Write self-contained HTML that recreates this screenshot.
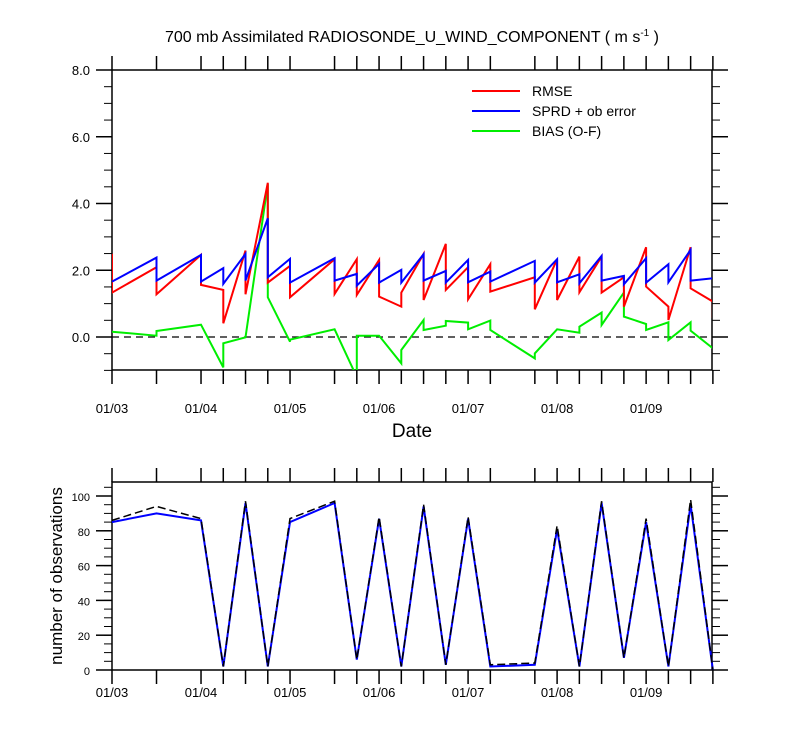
<!DOCTYPE html>
<html><head><meta charset="utf-8"><style>
html,body{margin:0;padding:0;background:#fff;}
svg{display:block;font-family:"Liberation Sans",Arial,sans-serif;}
</style></head><body>
<svg id="chart" width="800" height="750" viewBox="0 0 800 750" xmlns="http://www.w3.org/2000/svg">
<text x="412" y="42" font-size="16" text-anchor="middle">700 mb Assimilated RADIOSONDE_U_WIND_COMPONENT ( m s<tspan dy="-6" font-size="10">-1</tspan><tspan dy="6"> )</tspan></text>
<text x="412" y="437" font-size="19" text-anchor="middle">Date</text>
<text transform="translate(62,576) rotate(-90)" font-size="17" text-anchor="middle">number of observations</text>
<g id="top"></g>
<g id="bot"></g>
<g>
<line x1="472" y1="91" x2="520" y2="91" stroke="#ff0000" stroke-width="2"/>
<text x="532" y="96" font-size="14">RMSE</text>
<line x1="472" y1="111" x2="520" y2="111" stroke="#0000ff" stroke-width="2"/>
<text x="532" y="116" font-size="14">SPRD + ob error</text>
<line x1="472" y1="131" x2="520" y2="131" stroke="#00ee00" stroke-width="2"/>
<text x="532" y="136" font-size="14">BIAS (O-F)</text>
</g>
</svg>
<script>
// time in days since 01/03 00Z; duplicate times give vertical jumps
const rmseT=[0,0,0.5,0.5,1,1,1.25,1.25,1.5,1.5,1.75,1.75,2,2,2.5,2.5,2.75,2.75,3,3,3.25,3.25,3.5,3.5,3.75,3.75,4,4,4.25,4.25,4.75,4.75,5,5,5.25,5.25,5.5,5.5,5.75,5.75,6,6,6.25,6.25,6.5,6.5,6.75,6.75];
const rmseV=[2.49,1.33,2.09,1.28,2.46,1.56,1.41,0.41,2.59,1.28,4.62,1.63,2.13,1.19,2.33,1.29,2.33,1.26,2.31,1.21,0.91,1.33,2.49,1.11,2.79,1.41,2.09,1.13,2.18,1.36,1.79,0.83,2.33,1.11,2.41,1.34,2.41,1.33,1.79,0.91,2.69,1.51,0.91,0.51,2.69,1.46,1.06,0.57];
const sprdT=[0,0.5,0.5,1,1,1.25,1.25,1.5,1.5,1.75,1.75,2,2,2.5,2.5,2.75,2.75,3,3,3.25,3.25,3.5,3.5,3.75,3.75,4,4,4.25,4.25,4.75,4.75,5,5,5.25,5.25,5.5,5.5,5.75,5.75,6,6,6.25,6.25,6.5,6.5,6.75];
const sprdV=[1.66,2.38,1.69,2.46,1.66,2.06,1.59,2.49,1.69,3.56,1.79,2.34,1.63,2.36,1.69,1.89,1.54,2.19,1.63,2.01,1.63,2.48,1.69,1.98,1.63,2.31,1.64,1.96,1.66,2.28,1.63,2.33,1.64,1.88,1.61,2.43,1.69,1.83,1.58,2.36,1.63,2.18,1.64,2.61,1.69,1.76];
const biasT=[0,0.5,0.5,1,1.25,1.25,1.5,1.75,1.75,2,2,2.5,2.75,2.75,3,3.25,3.25,3.5,3.5,3.75,3.75,4,4,4.25,4.25,4.75,4.75,5,5.25,5.25,5.5,5.5,5.75,5.75,6,6,6.25,6.25,6.5,6.5,6.75];
const biasV=[0.16,0.04,0.18,0.37,-0.91,-0.19,-0.01,4.58,1.19,-0.14,-0.08,0.23,-1.2,0.04,0.04,-0.79,-0.39,0.51,0.21,0.34,0.48,0.43,0.23,0.49,0.21,-0.64,-0.49,0.23,0.13,0.31,0.73,0.36,1.33,0.61,0.39,0.21,0.44,-0.09,0.44,0.19,-0.34];
const obsT=[0,0.5,1,1.25,1.5,1.75,2,2.5,2.75,3,3.25,3.5,3.75,4,4.25,4.75,5,5.25,5.5,5.75,6,6.25,6.5,6.75];
const usedV=[85,90,86,2,96,2,85,96,6,87,2,94,3,87,2,3,81,2,96,7,85,2,95,0];
const totalV=[86,94,87,2,97,2,87,97,6,88,2,95,3,88,3,4,83,2,97,7,87,2,98,0];
const dayLabels=["01/03","01/04","01/05","01/06","01/07","01/08","01/09"];
const yTopTicks=["0.0","2.0","4.0","6.0","8.0"];
const yBotTicks=["0","20","40","60","80","100"];

const NS="http://www.w3.org/2000/svg";
const X0=112,X1=712,TMAX=6.74;
const sx=t=>X0+t*(X1-X0)/TMAX;
const tyT=v=>337-v*(337-70)/8, tyB=v=>670-v*(670-496)/100;
function mk(p,tag,a){const e=document.createElementNS(NS,tag);for(const k in a)e.setAttribute(k,a[k]);p.appendChild(e);return e;}
function axes(g,top,bot,yf,ymin,ymax,minorStep,majorVals,majorLbl,fs,lblY,tickTimes){
  mk(g,'rect',{x:X0,y:top,width:X1-X0,height:bot-top,fill:'none',stroke:'#000','stroke-width':1.5});
  tickTimes.forEach(t=>{const x=sx(t);
    mk(g,'line',{x1:x,y1:top,x2:x,y2:top-14,stroke:'#000','stroke-width':1.5});
    mk(g,'line',{x1:x,y1:bot,x2:x,y2:bot+14,stroke:'#000','stroke-width':1.5});});
  for(let v=Math.ceil(ymin/minorStep)*minorStep;v<=ymax+1e-9;v+=minorStep){const y=yf(v);
    mk(g,'line',{x1:X0,y1:y,x2:X0-8,y2:y,stroke:'#000'});mk(g,'line',{x1:X1,y1:y,x2:X1+8,y2:y,stroke:'#000'});}
  majorVals.forEach((v,i)=>{const y=yf(v);
    mk(g,'line',{x1:X0,y1:y,x2:X0-16,y2:y,stroke:'#000','stroke-width':1.5});
    mk(g,'line',{x1:X1,y1:y,x2:X1+16,y2:y,stroke:'#000','stroke-width':1.5});
    const tx=mk(g,'text',{x:X0-22,y:y+5,'font-size':fs,'text-anchor':'end'});tx.textContent=majorLbl[i];
    
    });
  dayLabels.forEach((d,i)=>{const tx=mk(g,'text',{x:sx(i),y:lblY,'font-size':13,'text-anchor':'middle'});tx.textContent=d;
    
    });
}
function line(g,T,V,xf,yf,attrs,name){
  const d=T.map((t,i)=>(i?'L':'M')+xf(t).toFixed(1)+','+yf(V[i]).toFixed(1)).join('');
  const p=mk(g,'path',Object.assign({d:d,fill:'none'},attrs));
  
  
}
const gt=document.getElementById('top'),gb=document.getElementById('bot');
const defs=mk(document.getElementById('chart'),'defs',{});
const cp=mk(defs,'clipPath',{id:'clipT'});mk(cp,'rect',{x:X0,y:70,width:X1-X0,height:300});
axes(gt,70,370,tyT,-1,8,0.5,[0,2,4,6,8],yTopTicks,13,413,obsT);
const gtc=mk(gt,'g',{'clip-path':'url(#clipT)'});
mk(gtc,'line',{x1:X0,y1:tyT(0),x2:X1,y2:tyT(0),stroke:'#000','stroke-width':1.2,'stroke-dasharray':'7,5'});
line(gtc,biasT,biasV,sx,tyT,{stroke:'#00ee00','stroke-width':2},'bias-line');
line(gtc,rmseT,rmseV,sx,tyT,{stroke:'#ff0000','stroke-width':2},'rmse-line');
line(gtc,sprdT,sprdV,sx,tyT,{stroke:'#0000ff','stroke-width':2},'sprd-line');
axes(gb,482,670,tyB,0,108,5,[0,20,40,60,80,100],yBotTicks,11,697,obsT);
line(gb,obsT,usedV,sx,tyB,{stroke:'#0000ff','stroke-width':2},'obs-used-line');
line(gb,obsT,totalV,sx,tyB,{stroke:'#000','stroke-width':1.5,'stroke-dasharray':'8,4'},'obs-total-line');
</script>
</body></html>
